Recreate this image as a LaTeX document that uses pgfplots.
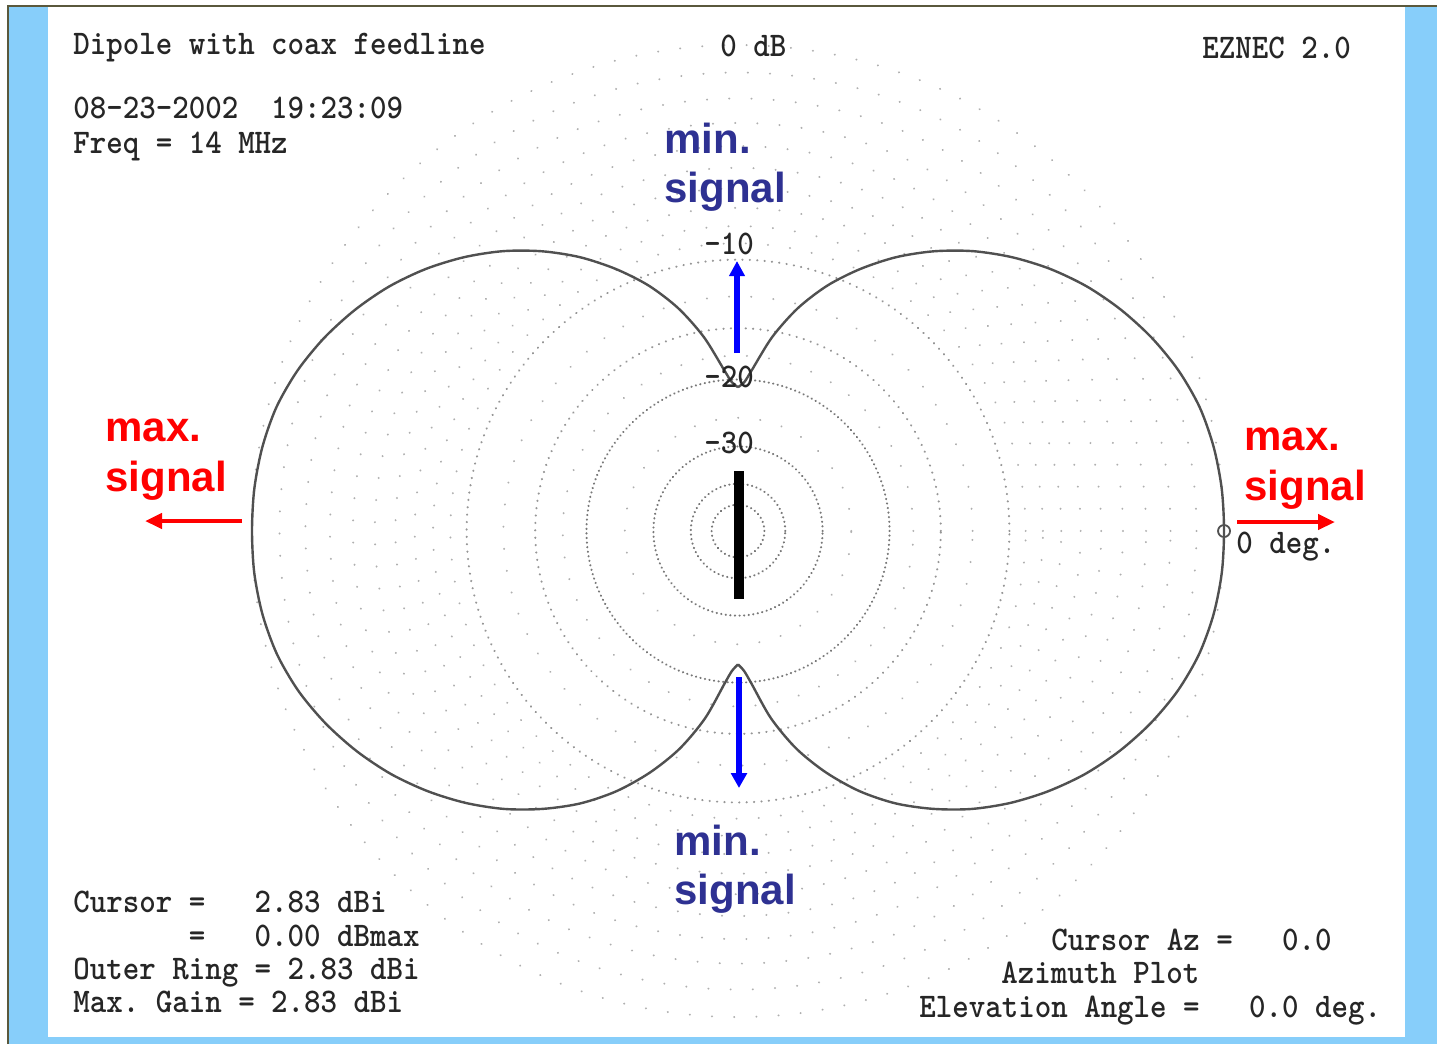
\documentclass[border=0pt]{standalone}
\usepackage{graphicx}
\usepackage{fontspec}
\setmainfont{Liberation Sans}
\usepackage{pgfplots}
\pgfplotsset{compat=1.18}
\usepgfplotslibrary{polar}
\usepackage{pgfplotstable}
\usetikzlibrary{arrows.meta}

\definecolor{skyb}{RGB}{135,206,250}
\definecolor{minblue}{RGB}{46,49,146}
\definecolor{txtgray}{RGB}{38,38,38}
\definecolor{curvegray}{RGB}{80,80,80}
\definecolor{dotgray}{RGB}{150,150,150}
\definecolor{dotlight}{RGB}{175,175,175}
\definecolor{dotdark}{RGB}{120,120,120}
\definecolor{edge}{RGB}{90,88,60}

% azimuth pattern, right lobe: angle (deg), gain relative to max (dB)
\pgfplotstableread{
angle dB
-90 -22.20
-87.5 -21.35
-85 -19.85
-80 -16.10
-75 -13.20
-70 -10.95
-65 -9.05
-60 -7.48
-55 -6.18
-50 -5.02
-45 -4.02
-40 -3.14
-35 -2.36
-30 -1.70
-25 -1.13
-20 -0.66
-15 -0.32
-10 -0.12
-5 -0.02
0 0.00
5 -0.02
10 -0.11
15 -0.29
20 -0.62
25 -1.07
30 -1.62
35 -2.26
40 -3.02
45 -3.90
50 -4.90
55 -6.06
60 -7.38
65 -8.92
70 -10.66
75 -12.80
80 -15.50
85 -18.85
87.5 -20.25
90 -20.90
}\rightlobe

% azimuth pattern, left lobe
\pgfplotstableread{
angle dB
90 -20.90
92.5 -20.25
95 -18.85
100 -15.50
105 -12.80
110 -10.66
115 -8.92
120 -7.38
125 -6.06
130 -4.90
135 -3.90
140 -3.02
145 -2.26
150 -1.62
155 -1.07
160 -0.62
165 -0.29
170 -0.11
175 -0.02
180 0.00
185 -0.02
190 -0.12
195 -0.32
200 -0.66
205 -1.13
210 -1.70
215 -2.36
220 -3.14
225 -4.02
230 -5.02
235 -6.18
240 -7.48
245 -9.05
250 -10.95
255 -13.20
260 -16.10
265 -19.85
267.5 -21.35
270 -22.20
}\leftlobe

\newcommand\mt[1]{\scalebox{1}[1.1]{#1}}
\tikzset{
  mono/.style={anchor=base west, inner sep=0pt, text=txtgray,
    font=\ttfamily\bfseries\fontsize{15.7bp}{18bp}\selectfont},
  sig/.style={anchor=base west, inner sep=0pt,
    font=\bfseries\fontsize{21bp}{25bp}\selectfont},
}

\begin{document}
\begin{tikzpicture}[x=0.5bp, y=-0.5bp]
\useasboundingbox (0,0) rectangle (1437,1044);
\fill[white] (0,0) rectangle (1437,1044);
\fill[skyb] (9,7) rectangle (48,1044);
\fill[skyb] (1405,7) rectangle (1437,1044);
\fill[skyb] (9,1037) rectangle (1437,1044);
\draw[edge, line width=1.2bp] (8,1044) -- (8,6) -- (1437,6);

\begin{polaraxis}[
  at={(369bp,-265.5bp)}, anchor=origin,
  scale only axis, width=486bp, height=486bp,
  xmin=0, xmax=360, ymin=0, ymax=1,
  axis line style={draw=none},
  xtick=\empty,
  ytick={0.3118,0.1741,0.0972,0.0543},
  minor ytick={1,0.9434,0.8900,0.8396,0.7921,0.7473,0.7050,0.6651,0.6274,0.5919,0.4827,0.3607,0.2330},
  extra y ticks={0.5584,0.4173},
  extra y tick labels={},
  extra y tick style={grid=major, major grid style={dotgray, line width=1.1bp, line cap=round, dash pattern=on 0.1bp off 3.6bp}},
  yticklabels={},
  ymajorgrids, yminorgrids,
  major grid style={dotdark, line width=1.1bp, line cap=round, dash pattern=on 0.1bp off 2.2bp},
  minor grid style={dotlight, line width=1.0bp, line cap=round, dash pattern=on 0.1bp off 11bp},
  major tick length=0pt, minor tick length=0pt,
  clip=false,
]
\addplot[curvegray, line width=1.2bp, smooth, tension=0.5] table[x=angle, y expr={exp(0.058266*\thisrow{dB})}] {\rightlobe};
\addplot[curvegray, line width=1.2bp, smooth, tension=0.5] table[x=angle, y expr={exp(0.058266*\thisrow{dB})}] {\leftlobe};
\addplot[only marks, mark=o, mark size=3bp, curvegray, line width=0.9bp] coordinates {(0,1)};
\end{polaraxis}

% antenna element
\fill[black] (733.5,471) rectangle (744,599);

% arrows
\draw[blue, line width=2.6bp, -{Triangle[length=7.5bp, width=7.5bp]}] (737,353) -- (737,261);
\draw[blue, line width=2.6bp, -{Triangle[length=7.5bp, width=7.8bp]}] (739,677) -- (739,788);
\draw[red, line width=2.3bp, -{Triangle[length=8.5bp, width=7.5bp]}] (242,521) -- (145,521);
\draw[red, line width=2.3bp, -{Triangle[length=8.5bp, width=7.5bp]}] (1237,522) -- (1335,522);

% annotation texts
\node[sig, text=minblue] at (664,153) {min.};
\node[sig, text=minblue] at (664,202) {signal};
\node[sig, text=minblue] at (674,855) {min.};
\node[sig, text=minblue] at (674,904) {signal};
\node[sig, text=red] at (105,441) {max.};
\node[sig, text=red] at (105,491) {signal};
\node[sig, text=red] at (1244,450) {max.};
\node[sig, text=red] at (1244,500) {signal};

% EZNEC texts
\node[mono] at (73,54) {\mt{Dipole~with~coax~feedline}};
\node[mono] at (720,56) {\mt{0~dB}};
\node[mono] at (1202,58) {\mt{EZNEC~2.0}};
\node[mono] at (73,118) {\mt{08-23-2002~~19:23:09}};
\node[mono] at (73,153) {\mt{Freq~=~14~MHz}};
\node[mono] at (704,254) {\mt{-10}};
\node[mono] at (704,387) {\mt{-20}};
\node[mono] at (704,453) {\mt{-30}};
\node[mono] at (1236,553) {\mt{0~deg.}};
\node[mono] at (73,912) {\mt{Cursor~=~~~2.83~dBi}};
\node[mono] at (73,946) {\mt{~~~~~~~=~~~0.00~dBmax}};
\node[mono] at (73,979) {\mt{Outer~Ring~=~2.83~dBi}};
\node[mono] at (73,1012) {\mt{Max.~Gain~=~2.83~dBi}};
\node[mono] at (1051,950) {\mt{Cursor~Az~=~~~0.0}};
\node[mono] at (1001,983) {\mt{Azimuth~Plot}};
\node[mono] at (919,1017) {\mt{Elevation~Angle~=~~~0.0~deg.}};
\end{tikzpicture}
\end{document}
